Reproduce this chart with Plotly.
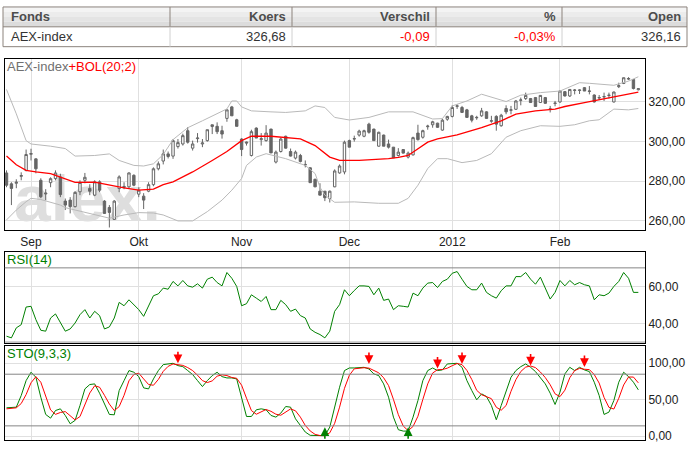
import base64
import pandas as pd
import plotly.graph_objects as go

W, H = 690, 451

# trading days on the chart (Euronext closed on 26 Dec)
days = pd.bdate_range("2011-08-25", "2012-02-23")
days = days[days != pd.Timestamp("2011-12-26")]
month_labels = ["Sep", "Okt", "Nov", "Dec", "2012", "Feb"]

# table row
table_head = ["Fonds", "Koers", "Verschil", "%", "Open"]
table_row = ["AEX-index", "326,68", "-0,09", "-0,03%", "326,16"]

opens = [284.2, 278.7, 279.0, 282.5, 285.5, 293.6, 291.3, 280.5, 273.6, 279.3,
         281.4, 282.2, 270.0, 270.5, 267.2, 274.7, 280.5, 276.4, 273.0, 279.7,
         270.0, 266.8, 260.8, 276.3, 277.4, 277.2, 283.0, 273.5, 272.5, 275.0,
         278.3, 286.3, 290.2, 293.8, 292.7, 297.5, 298.8, 305.5, 296.7, 301.5,
         298.8, 300.5, 307.6, 307.7, 305.5, 311.7, 317.5, 311.0, 301.3, 299.8,
         293.0, 306.8, 301.0, 300.5, 306.3, 289.7, 295.0, 302.7, 295.0, 291.7,
         293.0, 288.5, 286.8, 281.0, 275.0, 275.0, 271.3, 277.2, 284.2, 284.7,
         300.5, 301.3, 303.3, 302.7, 308.8, 306.3, 297.7, 303.3, 298.8, 297.2,
         293.0, 296.0, 292.2, 293.3, 304.3, 302.2, 307.5, 308.5, 309.3, 305.8,
         311.3, 312.7, 317.8, 317.2, 316.0, 313.0, 312.0, 313.0, 315.0, 310.3,
         312.7, 308.0, 316.7, 315.8, 316.3, 320.8, 321.7, 321.7, 322.2, 319.7,
         322.2, 316.3, 319.2, 320.0, 325.2, 323.0, 325.8, 325.8, 327.2, 325.3,
         323.5, 322.0, 322.5, 323.2, 320.0, 327.7, 329.3, 331.5, 331.3, 326.16]
highs = [285.5, 279.5, 281.0, 284.5, 296.0, 296.4, 291.5, 281.5, 276.0, 282.0,
         285.5, 283.8, 271.3, 272.0, 275.0, 280.5, 284.2, 278.5, 280.5, 280.5,
         270.5, 268.0, 270.5, 283.0, 279.5, 284.5, 283.5, 277.0, 274.0, 279.5,
         287.0, 290.0, 296.0, 295.0, 301.3, 301.3, 304.0, 307.3, 300.5, 304.3,
         301.3, 306.0, 308.6, 309.7, 308.0, 316.3, 318.0, 311.5, 301.7, 300.0,
         306.0, 307.2, 304.3, 308.3, 306.5, 295.5, 302.0, 303.0, 296.5, 295.5,
         293.8, 290.5, 287.0, 281.3, 279.0, 275.0, 275.3, 286.0, 288.5, 300.5,
         301.0, 303.0, 306.0, 306.0, 309.5, 306.5, 305.0, 303.5, 301.0, 297.3,
         296.7, 296.2, 295.0, 302.5, 308.5, 306.0, 308.5, 310.5, 309.5, 311.5,
         313.0, 318.3, 318.8, 318.0, 316.5, 313.5, 313.0, 317.0, 315.3, 313.0,
         313.3, 314.0, 318.3, 318.0, 321.0, 322.2, 324.7, 322.0, 322.5, 323.5,
         322.5, 318.0, 320.5, 325.7, 325.5, 326.5, 326.5, 326.3, 327.5, 328.0,
         323.8, 323.5, 324.7, 324.7, 325.2, 329.7, 332.3, 332.5, 331.5, 326.9]
lows = [277.0, 268.0, 276.5, 280.5, 285.0, 290.5, 284.0, 271.5, 270.5, 277.0,
        280.5, 272.0, 265.5, 263.8, 266.8, 273.0, 279.0, 273.0, 272.5, 274.5,
        263.5, 256.7, 260.5, 274.5, 276.0, 276.5, 277.5, 272.0, 266.0, 274.5,
        277.5, 285.5, 288.5, 291.5, 291.3, 296.5, 298.0, 299.0, 295.5, 299.5,
        297.2, 300.0, 303.8, 303.8, 301.5, 310.0, 313.0, 307.7, 292.7, 298.0,
        292.5, 301.8, 298.0, 300.0, 294.3, 289.0, 294.5, 296.5, 292.5, 291.0,
        289.5, 287.0, 279.3, 277.0, 273.0, 270.0, 269.3, 277.0, 283.8, 283.5,
        297.2, 300.0, 302.5, 302.2, 304.0, 300.5, 297.5, 297.7, 296.5, 291.8,
        292.5, 294.0, 291.5, 293.0, 300.5, 301.5, 306.0, 307.0, 307.0, 305.5,
        310.5, 312.2, 316.5, 314.5, 312.0, 309.7, 311.0, 312.5, 311.5, 309.5,
        305.5, 307.5, 313.8, 313.8, 316.0, 318.3, 321.0, 319.5, 317.5, 319.5,
        319.0, 314.7, 317.8, 319.5, 322.8, 322.5, 323.8, 324.0, 325.5, 323.8,
        319.7, 321.0, 320.5, 321.7, 319.7, 327.0, 329.0, 331.0, 326.3, 325.8]
closes = [278.0, 276.4, 279.5, 282.9, 293.5, 294.0, 286.3, 272.2, 274.0, 281.3,
          284.2, 273.3, 268.0, 267.2, 274.4, 279.4, 282.0, 275.0, 279.7, 275.5,
          263.8, 264.3, 270.0, 282.2, 277.0, 284.2, 278.0, 275.5, 270.5, 278.3,
          286.3, 288.8, 293.8, 292.5, 300.5, 299.5, 303.0, 299.7, 298.8, 301.8,
          299.3, 306.0, 308.5, 305.0, 303.8, 316.0, 313.0, 307.7, 296.0, 299.3,
          305.0, 301.8, 301.5, 304.3, 294.3, 294.7, 301.3, 296.7, 292.7, 294.7,
          290.0, 288.3, 279.3, 277.2, 273.0, 271.7, 275.0, 285.2, 287.7, 299.7,
          297.2, 301.5, 305.3, 305.5, 304.7, 300.5, 304.7, 297.7, 297.2, 291.8,
          294.7, 294.2, 294.2, 302.0, 301.0, 305.5, 307.8, 310.0, 307.2, 310.8,
          312.7, 317.2, 318.0, 314.7, 312.2, 310.8, 312.2, 315.5, 311.7, 310.5,
          308.8, 313.3, 315.0, 316.0, 320.5, 321.0, 323.3, 319.7, 317.7, 323.3,
          319.3, 316.5, 319.4, 325.5, 323.0, 326.3, 326.0, 326.0, 325.5, 325.5,
          320.0, 322.2, 322.7, 323.4, 325.0, 328.2, 332.2, 331.8, 326.77, 326.68]

# Bollinger (20;2) read at the day index where each vertex sits
bol_up_i = [0, 2, 4, 5, 9, 12, 14, 18, 21, 23, 26, 28, 30, 31, 32, 34, 37, 40, 42, 45,
            46, 47, 48, 50, 54, 57, 61, 63, 65, 67, 70, 74, 78, 83, 87, 89, 91, 94, 97,
            102, 105, 109, 113, 117, 119, 124, 127, 129]
bol_up = [326.3, 314.0, 300.5, 298.8, 297.7, 296.5, 292.7, 293.0, 293.8, 290.5, 288.0,
          287.7, 288.8, 291.0, 293.5, 301.0, 307.0, 310.5, 313.0, 316.5, 320.5, 320.5,
          317.5, 315.5, 315.0, 314.7, 315.5, 318.0, 317.2, 312.2, 310.9, 312.2, 315.0,
          315.0, 311.4, 311.6, 318.0, 320.5, 323.9, 320.2, 323.4, 324.7, 325.5, 329.7,
          329.4, 328.4, 330.5, 332.7]
bol_mid_i = [0, 2, 4, 6, 9, 12, 14, 18, 21, 24, 27, 30, 31, 32, 34, 38, 42, 45, 48, 50,
             54, 57, 60, 63, 65, 66, 68, 72, 78, 80, 82, 84, 86, 88, 92, 97, 101, 104,
             108, 112, 114, 118, 122, 125, 129]
bol_mid = [292.7, 288.3, 285.5, 284.7, 283.9, 281.0, 279.4, 279.6, 278.0, 276.7, 275.5,
           276.0, 277.2, 278.3, 279.7, 284.7, 290.5, 295.0, 300.5, 302.7, 302.7, 302.2,
           301.4, 298.0, 294.4, 292.2, 290.5, 290.5, 291.4, 292.0, 293.0, 296.4, 299.7,
           301.4, 303.4, 307.0, 310.5, 313.9, 315.5, 316.4, 317.7, 319.7, 321.7, 323.0,
           325.0]
bol_low_i = [0, 2, 4, 5, 7, 9, 11, 12, 14, 18, 21, 24, 27, 30, 32, 35, 38, 41, 44, 46,
             48, 49, 51, 53, 57, 61, 63, 64, 65, 67, 71, 76, 80, 82, 84, 86, 88, 90, 93,
             96, 99, 102, 105, 109, 113, 116, 119, 121, 124, 127, 129]
bol_low = [260.5, 265.5, 269.7, 271.4, 270.8, 269.4, 268.0, 266.7, 265.5, 263.0, 261.4,
           263.0, 264.2, 264.0, 263.0, 260.0, 260.0, 264.7, 270.5, 275.5, 281.4, 288.0,
           292.2, 293.9, 291.4, 288.0, 283.9, 277.0, 273.0, 269.4, 269.6, 268.9, 268.9,
           271.4, 278.0, 286.4, 291.4, 291.4, 289.4, 290.5, 293.9, 302.2, 305.5, 308.0,
           307.7, 308.5, 310.5, 311.0, 316.4, 316.0, 316.7]

rsi = [33.2, 32.3, 37.7, 39.4, 48.9, 49.3, 42.1, 36.4, 35.9, 43.0,
       45.2, 40.3, 35.9, 37.1, 40.3, 44.8, 47.5, 43.0, 46.6, 44.3,
       37.1, 38.2, 43.0, 51.4, 49.6, 52.8, 50.2, 47.5, 43.9, 49.3,
       55.0, 56.0, 59.1, 58.5, 62.7, 60.3, 63.2, 60.3, 59.6, 61.4,
       59.1, 63.9, 65.0, 62.1, 60.3, 67.5, 64.4, 60.0, 49.6, 50.7,
       55.5, 53.7, 51.9, 54.6, 47.5, 47.5, 52.5, 50.2, 46.6, 47.8,
       44.3, 43.0, 37.1, 35.3, 34.1, 32.3, 35.9, 46.6, 50.2, 58.2,
       55.0, 57.8, 60.3, 60.3, 60.0, 55.5, 59.1, 52.5, 53.2, 47.5,
       49.6, 49.3, 48.9, 56.4, 55.0, 59.1, 61.8, 62.1, 59.4, 62.7,
       63.9, 67.1, 68.0, 63.9, 60.0, 58.2, 58.2, 61.8, 56.8, 55.0,
       53.7, 57.7, 60.3, 60.3, 65.3, 65.3, 67.5, 63.9, 61.2, 65.0,
       59.1, 53.2, 56.8, 63.2, 60.3, 63.2, 60.9, 62.1, 60.9, 60.3,
       52.8, 55.5, 55.0, 56.4, 60.0, 62.7, 67.5, 64.4, 56.8, 56.8]

sto_k = [38.8, 38.8, 39.7, 55.7, 76.2, 87.7, 80.8, 53.4, 29.7, 24.6,
         35.1, 37.4, 28.3, 16.9, 21.5, 42.0, 64.8, 70.8, 71.7, 58.9,
         44.3, 29.7, 29.2, 62.5, 76.2, 90.0, 87.7, 81.7, 66.2, 64.8,
         78.5, 90.0, 98.2, 99.1, 100.0, 96.8, 95.4, 90.0, 84.5, 76.2,
         68.0, 76.2, 83.1, 87.7, 81.7, 79.9, 79.9, 78.5, 51.1, 26.9,
         26.9, 36.1, 37.4, 36.1, 28.3, 26.0, 31.5, 40.6, 39.7, 23.7,
         14.6, 5.5, 1.0, 0.5, 0.5, 0.5, 12.3, 39.7, 67.1, 90.0,
         93.6, 93.6, 93.6, 94.5, 92.2, 85.4, 83.1, 71.7, 53.4, 26.0,
         8.7, 6.8, 6.8, 26.0, 48.8, 76.2, 90.0, 93.6, 90.0, 90.9,
         99.1, 100.0, 100.0, 94.5, 76.2, 62.5, 49.8, 58.0, 54.3, 42.0,
         22.4, 42.0, 61.6, 80.8, 90.0, 95.4, 99.1, 94.5, 88.6, 80.8,
         71.7, 58.9, 43.4, 60.3, 85.4, 94.5, 90.0, 94.5, 90.9, 88.6,
         74.0, 55.7, 29.7, 32.9, 48.8, 74.0, 87.7, 81.7, 74.0, 63.5]
sto_d = [37.4, 38.3, 38.8, 44.7, 57.0, 73.2, 81.6, 74.0, 54.6, 35.9,
         29.8, 32.4, 33.6, 27.5, 22.2, 26.8, 42.8, 59.2, 69.1, 67.1,
         56.0, 44.0, 35.0, 40.5, 56.0, 76.0, 84.6, 86.5, 78.5, 70.9,
         69.8, 77.8, 88.9, 95.8, 99.1, 98.6, 97.1, 94.1, 90.0, 83.6,
         76.2, 73.5, 75.8, 82.3, 84.2, 83.1, 80.5, 79.4, 69.8, 52.0,
         35.0, 30.0, 33.2, 36.5, 34.0, 30.0, 28.6, 32.7, 37.3, 34.7,
         26.0, 14.6, 7.0, 2.3, 0.7, 0.5, 4.4, 17.5, 39.7, 65.6,
         83.6, 92.4, 93.6, 93.9, 93.4, 90.7, 86.9, 80.1, 69.4, 50.4,
         29.4, 13.8, 7.4, 13.2, 27.2, 50.3, 71.7, 86.6, 91.2, 91.5,
         93.3, 96.7, 99.7, 98.2, 90.2, 77.7, 62.8, 56.8, 54.0, 51.4,
         39.6, 35.5, 42.0, 61.5, 77.5, 88.7, 94.8, 96.3, 94.1, 88.0,
         80.4, 70.5, 58.0, 54.2, 63.0, 80.1, 90.0, 93.0, 91.8, 91.3,
         84.5, 72.8, 53.1, 39.4, 37.1, 51.9, 70.2, 81.1, 81.1, 73.1]

# stochastic signals (day index, arrow tip)
sell_i = [35, 74, 88, 93, 107, 118]
sell_y = [100, 99, 93, 99, 97, 95]
buy_i = [65, 82]
buy_y = [12, 12]

x = list(range(len(days)))
month_pos = [i for i in range(1, len(days)) if days[i].month != days[i - 1].month]

FONT = "Liberation Sans, Arial, sans-serif"
NARROW = "Liberation Sans Narrow, Arial Narrow, Liberation Sans, sans-serif"
GREY = "#666666"


def px(v):
    return v / W


def py(v):
    return 1 - v / H


xdom = [px(4.7), px(645)]
xr = [-0.37, 130.36]

fig = go.Figure()
fig.add_trace(go.Scatter(x=bol_up_i, y=bol_up, mode="lines",
                         line=dict(color="#b9b9b9", width=1), hoverinfo="skip"))
fig.add_trace(go.Scatter(x=bol_low_i, y=bol_low, mode="lines",
                         line=dict(color="#b9b9b9", width=1), hoverinfo="skip"))
fig.add_trace(go.Candlestick(
    x=x, open=opens, high=highs, low=lows, close=closes, whiskerwidth=0,
    increasing=dict(line=dict(color=GREY, width=1), fillcolor="#ffffff"),
    decreasing=dict(line=dict(color=GREY, width=1), fillcolor=GREY)))
fig.add_trace(go.Scatter(x=bol_mid_i, y=bol_mid, mode="lines",
                         line=dict(color="#ff0000", width=1.3)))
fig.add_trace(go.Scatter(x=x, y=rsi, mode="lines", xaxis="x2", yaxis="y2",
                         line=dict(color="#008000", width=1)))
fig.add_trace(go.Scatter(x=x, y=sto_k, mode="lines", xaxis="x3", yaxis="y3",
                         line=dict(color="#008000", width=1)))
fig.add_trace(go.Scatter(x=x, y=sto_d, mode="lines", xaxis="x3", yaxis="y3",
                         line=dict(color="#ff0000", width=1)))

xbase = dict(domain=xdom, range=xr, tickvals=month_pos, ticktext=month_labels,
             showgrid=True, gridcolor="#e0e0e0", gridwidth=1, zeroline=False,
             showline=True, linecolor="#000000", linewidth=1, mirror=True,
             ticks="", tickfont=dict(family=FONT, size=12, color="#222222"))
ybase = dict(side="right", showgrid=True, gridcolor="#e0e0e0", zeroline=False,
             showline=True, linecolor="#000000", linewidth=1, mirror=True,
             ticks="", tickformat=".2f",
             tickfont=dict(family=FONT, size=12, color="#222222"))

shapes = []
# table header gradient
head_cols = ["#f4f4f4", "#ececec", "#e4e4e4", "#dcdcdc"]
for k, c in enumerate(head_cols):
    shapes.append(dict(type="rect", xref="paper", yref="paper", layer="below",
                       x0=px(3), x1=px(687), y0=py(7 + 5 * (k + 1)), y1=py(7 + 5 * k),
                       fillcolor=c, line=dict(width=0)))
col_edges = [3, 170, 292, 436, 562, 687]
shapes.append(dict(type="rect", xref="paper", yref="paper", x0=px(3), x1=px(687),
                   y0=py(47), y1=py(7), line=dict(color="#8c837d", width=1)))
shapes.append(dict(type="line", xref="paper", yref="paper", x0=px(3), x1=px(687),
                   y0=py(27), y1=py(27), line=dict(color="#8c837d", width=1)))
for e in col_edges[1:-1]:
    shapes.append(dict(type="line", xref="paper", yref="paper", x0=px(e), x1=px(e),
                       y0=py(27), y1=py(7), line=dict(color="#8c837d", width=1)))
    shapes.append(dict(type="line", xref="paper", yref="paper", x0=px(e), x1=px(e),
                       y0=py(47), y1=py(27), line=dict(color="#d0d0d0", width=1)))
# reference levels in RSI and STO
for lv in [30, 70]:
    shapes.append(dict(type="line", xref="x2 domain", yref="y2", x0=0, x1=1,
                       y0=lv, y1=lv, line=dict(color="#858585", width=1)))
for lv in [14, 85]:
    shapes.append(dict(type="line", xref="x3 domain", yref="y3", x0=0, x1=1,
                       y0=lv, y1=lv, line=dict(color="#858585", width=1)))

ann = []
for k, t in enumerate(table_head):
    left = k == 0
    ann.append(dict(xref="paper", yref="paper", showarrow=False,
                    x=px(col_edges[0] + 6) if left else px(col_edges[k + 1] - 4),
                    xanchor="left" if left else "right", y=py(17), yanchor="middle",
                    text="<b>" + t + "</b>",
                    font=dict(family=NARROW, size=13, color="#4d4d4d")))
for k, t in enumerate(table_row):
    left = k == 0
    ann.append(dict(xref="paper", yref="paper", showarrow=False,
                    x=px(col_edges[0] + 6) if left else px(col_edges[k + 1] - 4),
                    xanchor="left" if left else "right", y=py(37), yanchor="middle",
                    text=t,
                    font=dict(family=NARROW, size=13,
                              color="#ff0000" if t.startswith("-") else "#333333")))
ann.append(dict(xref="paper", yref="paper", showarrow=False, x=px(5), y=py(67),
                xanchor="left", yanchor="middle",
                text="AEX-index<span style='color:#ff0000'>+BOL(20;2)</span>",
                font=dict(family=FONT, size=13, color="#707070")))
ann.append(dict(xref="paper", yref="paper", showarrow=False, x=px(5), y=py(261),
                xanchor="left", yanchor="middle", text="RSI(14)",
                font=dict(family=FONT, size=13, color="#008000")))
ann.append(dict(xref="paper", yref="paper", showarrow=False, x=px(5), y=py(356),
                xanchor="left", yanchor="middle", text="STO(9,3,3)",
                font=dict(family=FONT, size=13, color="#008000")))
for i, v in zip(sell_i, sell_y):
    ann.append(dict(xref="x3", yref="y3", x=i, y=v, text="", showarrow=True,
                    arrowhead=2, arrowsize=1.1, arrowwidth=1.6, arrowcolor="#ff0000",
                    ax=0, ay=-13))
for i, v in zip(buy_i, buy_y):
    ann.append(dict(xref="x3", yref="y3", x=i, y=v, text="", showarrow=True,
                    arrowhead=2, arrowsize=1.1, arrowwidth=1.6, arrowcolor="#008000",
                    ax=0, ay=13))

# faint broker logo behind the candles
svg = ('<svg xmlns="http://www.w3.org/2000/svg" width="160" height="56" viewBox="0 0 160 56">'
       '<text x="0" y="52" font-family="Liberation Sans, Arial, sans-serif" '
       'font-weight="bold" font-size="66" fill="#dedede">alex.</text></svg>')
logo = "data:image/svg+xml;base64," + base64.b64encode(svg.encode()).decode()

fig.update_layout(
    width=W, height=H, margin=dict(l=0, r=0, t=0, b=0),
    paper_bgcolor="#ffffff", plot_bgcolor="rgba(0,0,0,0)",
    separators=",.", showlegend=False, hovermode=False,
    xaxis=dict(xbase, anchor="y", rangeslider=dict(visible=False)),
    xaxis2=dict(xbase, anchor="y2", showticklabels=False),
    xaxis3=dict(xbase, anchor="y3", showticklabels=False),
    yaxis=dict(ybase, domain=[py(232), py(59.7)], range=[255.2, 341.5],
               tickvals=[260, 280, 300, 320], anchor="x"),
    yaxis2=dict(ybase, domain=[py(345), py(253.3)], range=[29.7, 78.75],
                tickvals=[40, 60], anchor="x2"),
    yaxis3=dict(ybase, domain=[py(442.7), py(348.3)], range=[-5.1, 123.8],
                tickvals=[0, 50, 100], anchor="x3"),
    shapes=shapes, annotations=ann,
    images=[dict(source=logo, xref="paper", yref="paper", x=px(14), y=py(170),
                 sizex=px(160), sizey=56 / H, sizing="stretch", layer="below",
                 xanchor="left", yanchor="top")],
)

# the page body keeps its default 8px margin otherwise
fig.write_html("out.html", config={"displayModeBar": False},
               post_script="document.body.style.margin='0';")
